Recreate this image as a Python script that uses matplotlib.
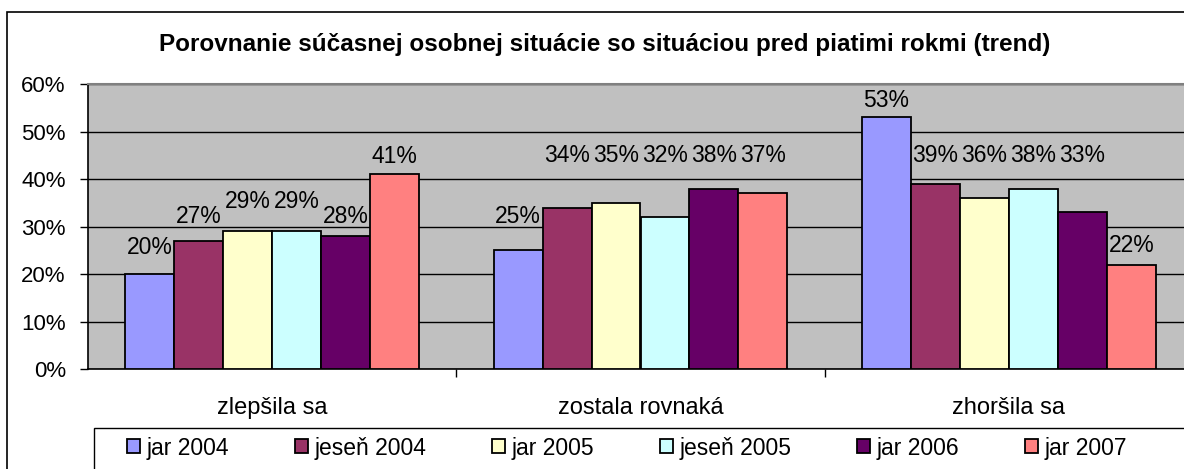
import numpy as np
import matplotlib.pyplot as plt
from matplotlib.patches import Rectangle
from matplotlib.ticker import FixedLocator

# data
categories = ['zlepšila sa', 'zostala rovnaká', 'zhoršila sa']
series = ['jar 2004', 'jeseň 2004', 'jar 2005', 'jeseň 2005', 'jar 2006', 'jar 2007']
values = {
    'jar 2004':   [20, 25, 53],
    'jeseň 2004': [27, 34, 39],
    'jar 2005':   [29, 35, 36],
    'jeseň 2005': [29, 32, 38],
    'jar 2006':   [28, 38, 33],
    'jar 2007':   [41, 37, 22],
}
# height (in %) where each value label sits - they were placed by hand in the original
label_y = {
    'jar 2004':   [25.5, 32.2, 56.6],
    'jeseň 2004': [32.2, 45.0, 45.0],
    'jar 2005':   [35.2, 45.0, 45.0],
    'jeseň 2005': [35.2, 45.0, 45.0],
    'jar 2006':   [32.2, 45.0, 45.0],
    'jar 2007':   [44.8, 45.0, 26.1],
}
colors = ['#9999FF', '#993366', '#FFFFCC', '#CCFFFF', '#660066', '#FF8080']
y_ticks = [0, 10, 20, 30, 40, 50, 60]

plt.rcParams['font.family'] = ['Liberation Sans', 'DejaVu Sans']

W, H = 1184, 469
fig = plt.figure(figsize=(W / 100, H / 100), dpi=100)

# outer chart border (runs off the right and bottom edges)
fig.patches.append(Rectangle((7 / W, -0.05), 1.1, 1 - 12 / H + 0.05,
                             transform=fig.transFigure, fill=False,
                             edgecolor='black', linewidth=1.2, zorder=0))

ax = fig.add_axes([88 / W, 1 - 369 / H, 1105 / W, 285 / H])
ax.set_facecolor('#C0C0C0')

x = np.arange(len(categories))
bar_w = 0.133
for i, (name, col) in enumerate(zip(series, colors)):
    offs = (i - (len(series) - 1) / 2) * bar_w
    bars = ax.bar(x + offs, values[name], bar_w, color=col, edgecolor='black',
                  linewidth=1.3, label=name, zorder=3)
    for b, v, ly in zip(bars, values[name], label_y[name]):
        ax.text(b.get_x() + b.get_width() / 2, ly, f'{v}%', ha='center',
                va='center', fontsize=16.5, zorder=4)

ax.set_xlim(-0.5, len(categories) - 0.5)
ax.set_ylim(0, 60)
ax.set_yticks(y_ticks)
ax.set_yticklabels([f'{t}%' for t in y_ticks])
ax.yaxis.grid(True, color='black', linewidth=1, zorder=1)
ax.set_axisbelow(True)
ax.tick_params(axis='y', length=6, width=1, pad=10, labelsize=16)

ax.set_xticks(x)
ax.set_xticklabels(categories)
ax.tick_params(axis='x', which='major', length=0, pad=20, labelsize=17)
ax.xaxis.set_minor_locator(FixedLocator([0.5, 1.5, 2.5]))
ax.tick_params(axis='x', which='minor', length=6, width=1)

ax.spines['top'].set_color('#808080')
ax.spines['top'].set_linewidth(1.5)
ax.spines['right'].set_visible(False)
ax.spines['left'].set_linewidth(1.2)
ax.spines['bottom'].set_linewidth(1.2)

fig.text(605 / W, 1 - 45 / H,
         'Porovnanie súčasnej osobnej situácie so situáciou pred piatimi rokmi (trend)',
         ha='center', va='center', fontsize=17.5, fontweight='bold')

# legend box runs off the right and bottom edges like the reference
fig.patches.append(Rectangle((94 / W, -0.05), 1.1, 1 - 428 / H + 0.05,
                             transform=fig.transFigure, fill=False,
                             edgecolor='black', linewidth=1, zorder=1))
leg = fig.legend(loc='center left', bbox_to_anchor=(127 / W, 1 - 448 / H),
                 ncol=6, fontsize=16.5, frameon=False,
                 handlelength=0.57, handleheight=0.57, handletextpad=0.3,
                 columnspacing=2.85, borderaxespad=0, borderpad=0)

fig.savefig('out.png', dpi=100)
